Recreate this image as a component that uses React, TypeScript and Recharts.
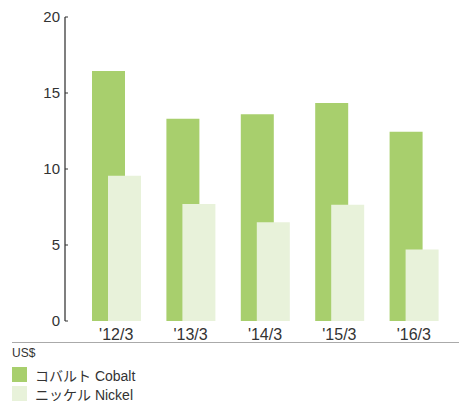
import React from "react";
import { BarChart, Bar, XAxis, YAxis } from "recharts";

const years = ["'12/3", "'13/3", "'14/3", "'15/3", "'16/3"];
const cobalt = [16.45, 13.3, 13.6, 14.35, 12.45];
const nickel = [9.55, 7.7, 6.5, 7.65, 4.7];
const yTicks = [0, 5, 10, 15, 20];
const seriesNames = ["コバルト Cobalt", "ニッケル Nickel"];
const seriesColors = ["#a8cf6d", "#e8f2da"];

const data = years.map((y, i) => ({ year: y, cobalt: cobalt[i], nickel: nickel[i] }));

const FONT = "'Liberation Sans', Arial, 'Noto Sans CJK JP', sans-serif";

// y tick: label on the left, short tick mark pointing into the plot
const YTick = (props: any) => {
  const { x, y, payload } = props;
  return (
    <g>
      <line x1={x + 5} x2={x + 8} y1={y} y2={y} stroke="#333" strokeWidth={1} />
      <text x={x} y={y} dy="0.35em" textAnchor="end" fill="#333" fontSize={15} fontFamily={FONT}>
        {payload.value}
      </text>
    </g>
  );
};

function App() {
  return (
    <div style={{ position: "absolute", left: 0, top: 0, width: 459, height: 401, background: "#fff", fontFamily: FONT }}>
      <BarChart
        width={459}
        height={345}
        data={data}
        margin={{ top: 17, right: 8, bottom: 4, left: 0 }}
        barGap={-17}
      >
        <XAxis
          dataKey="year"
          axisLine={false}
          tickLine={false}
          padding={{ left: 14, right: 0 }}
          height={20}
          tick={{ fill: "#333", fontSize: 16, fontFamily: FONT }}
          tickMargin={2}
        />
        <YAxis
          domain={[0, 20]}
          ticks={yTicks}
          width={65}
          axisLine={{ stroke: "#7f7f7f", strokeWidth: 2 }}
          tickLine={false}
          tickSize={3}
          tickMargin={2}
          tick={<YTick />}
          interval={0}
        />
        <Bar dataKey="cobalt" name={seriesNames[0]} fill={seriesColors[0]} barSize={33} isAnimationActive={false} />
        <Bar dataKey="nickel" name={seriesNames[1]} fill={seriesColors[1]} barSize={33} isAnimationActive={false} />
      </BarChart>
      <div style={{ position: "absolute", left: 12, top: 342, width: 447, borderTop: "1px solid #aaa" }} />
      <div style={{ position: "absolute", left: 12, top: 346, fontSize: 12, color: "#333" }}>US$</div>
      {seriesNames.map((n, i) => (
        <div key={n} style={{ position: "absolute", left: 12, top: 367 + i * 19, height: 15, display: "flex", alignItems: "center" }}>
          <div style={{ width: 15, height: 15, background: seriesColors[i] }} />
          <span style={{ marginLeft: 8, fontSize: 14, color: "#333", whiteSpace: "nowrap" }}>{n}</span>
        </div>
      ))}
    </div>
  );
}

export default App;
